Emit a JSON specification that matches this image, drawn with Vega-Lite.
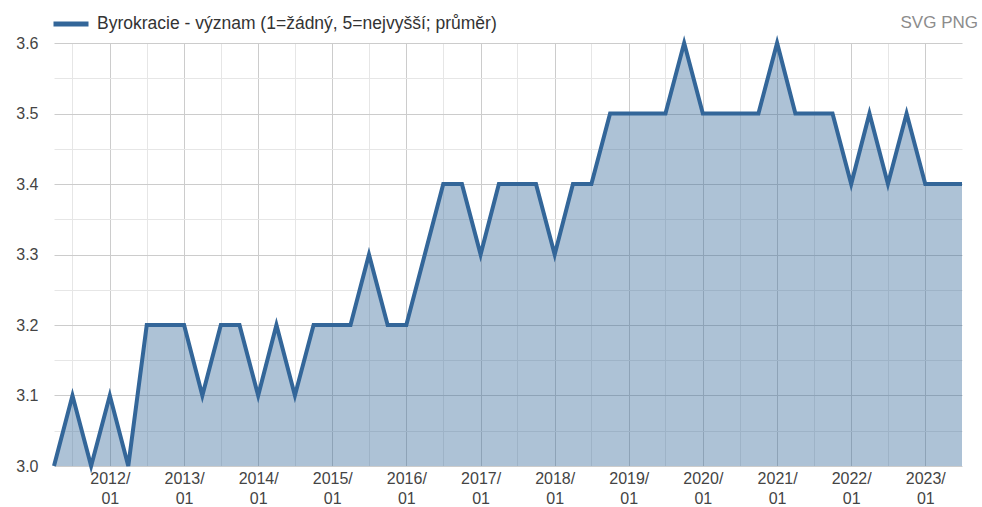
{
  "$schema": "https://vega.github.io/schema/vega-lite/v6.json",
  "width": 908,
  "height": 423,
  "autosize": {"type": "none"},
  "padding": {"left": 54, "top": 43, "right": 20, "bottom": 41},
  "background": "white",
  "config": {
    "view": {"stroke": null},
    "font": "Liberation Sans",
    "axis": {"labelFont": "Liberation Sans"},
    "legend": {"labelFont": "Liberation Sans"},
    "title": {"fontSize": 17, "font": "Liberation Sans", "fontWeight": "normal", "color": "#8c8c8c"}
  },
  "title": {
    "text": "SVG PNG",
    "anchor": "end",
    "orient": "top",
    "fontSize": 17,
    "fontWeight": "normal",
    "color": "#8c8c8c",
    "offset": 0,
    "dy": 28,
    "dx": 8
  },
  "data": {
    "values": [
      {"d": "2011-04-01", "v": 3.0, "s": "Byrokracie - význam (1=žádný, 5=nejvyšší; průměr)"},
      {"d": "2011-07-01", "v": 3.1, "s": "Byrokracie - význam (1=žádný, 5=nejvyšší; průměr)"},
      {"d": "2011-10-01", "v": 3.0, "s": "Byrokracie - význam (1=žádný, 5=nejvyšší; průměr)"},
      {"d": "2012-01-01", "v": 3.1, "s": "Byrokracie - význam (1=žádný, 5=nejvyšší; průměr)"},
      {"d": "2012-04-01", "v": 3.0, "s": "Byrokracie - význam (1=žádný, 5=nejvyšší; průměr)"},
      {"d": "2012-07-01", "v": 3.2, "s": "Byrokracie - význam (1=žádný, 5=nejvyšší; průměr)"},
      {"d": "2012-10-01", "v": 3.2, "s": "Byrokracie - význam (1=žádný, 5=nejvyšší; průměr)"},
      {"d": "2013-01-01", "v": 3.2, "s": "Byrokracie - význam (1=žádný, 5=nejvyšší; průměr)"},
      {"d": "2013-04-01", "v": 3.1, "s": "Byrokracie - význam (1=žádný, 5=nejvyšší; průměr)"},
      {"d": "2013-07-01", "v": 3.2, "s": "Byrokracie - význam (1=žádný, 5=nejvyšší; průměr)"},
      {"d": "2013-10-01", "v": 3.2, "s": "Byrokracie - význam (1=žádný, 5=nejvyšší; průměr)"},
      {"d": "2014-01-01", "v": 3.1, "s": "Byrokracie - význam (1=žádný, 5=nejvyšší; průměr)"},
      {"d": "2014-04-01", "v": 3.2, "s": "Byrokracie - význam (1=žádný, 5=nejvyšší; průměr)"},
      {"d": "2014-07-01", "v": 3.1, "s": "Byrokracie - význam (1=žádný, 5=nejvyšší; průměr)"},
      {"d": "2014-10-01", "v": 3.2, "s": "Byrokracie - význam (1=žádný, 5=nejvyšší; průměr)"},
      {"d": "2015-01-01", "v": 3.2, "s": "Byrokracie - význam (1=žádný, 5=nejvyšší; průměr)"},
      {"d": "2015-04-01", "v": 3.2, "s": "Byrokracie - význam (1=žádný, 5=nejvyšší; průměr)"},
      {"d": "2015-07-01", "v": 3.3, "s": "Byrokracie - význam (1=žádný, 5=nejvyšší; průměr)"},
      {"d": "2015-10-01", "v": 3.2, "s": "Byrokracie - význam (1=žádný, 5=nejvyšší; průměr)"},
      {"d": "2016-01-01", "v": 3.2, "s": "Byrokracie - význam (1=žádný, 5=nejvyšší; průměr)"},
      {"d": "2016-04-01", "v": 3.3, "s": "Byrokracie - význam (1=žádný, 5=nejvyšší; průměr)"},
      {"d": "2016-07-01", "v": 3.4, "s": "Byrokracie - význam (1=žádný, 5=nejvyšší; průměr)"},
      {"d": "2016-10-01", "v": 3.4, "s": "Byrokracie - význam (1=žádný, 5=nejvyšší; průměr)"},
      {"d": "2017-01-01", "v": 3.3, "s": "Byrokracie - význam (1=žádný, 5=nejvyšší; průměr)"},
      {"d": "2017-04-01", "v": 3.4, "s": "Byrokracie - význam (1=žádný, 5=nejvyšší; průměr)"},
      {"d": "2017-07-01", "v": 3.4, "s": "Byrokracie - význam (1=žádný, 5=nejvyšší; průměr)"},
      {"d": "2017-10-01", "v": 3.4, "s": "Byrokracie - význam (1=žádný, 5=nejvyšší; průměr)"},
      {"d": "2018-01-01", "v": 3.3, "s": "Byrokracie - význam (1=žádný, 5=nejvyšší; průměr)"},
      {"d": "2018-04-01", "v": 3.4, "s": "Byrokracie - význam (1=žádný, 5=nejvyšší; průměr)"},
      {"d": "2018-07-01", "v": 3.4, "s": "Byrokracie - význam (1=žádný, 5=nejvyšší; průměr)"},
      {"d": "2018-10-01", "v": 3.5, "s": "Byrokracie - význam (1=žádný, 5=nejvyšší; průměr)"},
      {"d": "2019-01-01", "v": 3.5, "s": "Byrokracie - význam (1=žádný, 5=nejvyšší; průměr)"},
      {"d": "2019-04-01", "v": 3.5, "s": "Byrokracie - význam (1=žádný, 5=nejvyšší; průměr)"},
      {"d": "2019-07-01", "v": 3.5, "s": "Byrokracie - význam (1=žádný, 5=nejvyšší; průměr)"},
      {"d": "2019-10-01", "v": 3.6, "s": "Byrokracie - význam (1=žádný, 5=nejvyšší; průměr)"},
      {"d": "2020-01-01", "v": 3.5, "s": "Byrokracie - význam (1=žádný, 5=nejvyšší; průměr)"},
      {"d": "2020-04-01", "v": 3.5, "s": "Byrokracie - význam (1=žádný, 5=nejvyšší; průměr)"},
      {"d": "2020-07-01", "v": 3.5, "s": "Byrokracie - význam (1=žádný, 5=nejvyšší; průměr)"},
      {"d": "2020-10-01", "v": 3.5, "s": "Byrokracie - význam (1=žádný, 5=nejvyšší; průměr)"},
      {"d": "2021-01-01", "v": 3.6, "s": "Byrokracie - význam (1=žádný, 5=nejvyšší; průměr)"},
      {"d": "2021-04-01", "v": 3.5, "s": "Byrokracie - význam (1=žádný, 5=nejvyšší; průměr)"},
      {"d": "2021-07-01", "v": 3.5, "s": "Byrokracie - význam (1=žádný, 5=nejvyšší; průměr)"},
      {"d": "2021-10-01", "v": 3.5, "s": "Byrokracie - význam (1=žádný, 5=nejvyšší; průměr)"},
      {"d": "2022-01-01", "v": 3.4, "s": "Byrokracie - význam (1=žádný, 5=nejvyšší; průměr)"},
      {"d": "2022-04-01", "v": 3.5, "s": "Byrokracie - význam (1=žádný, 5=nejvyšší; průměr)"},
      {"d": "2022-07-01", "v": 3.4, "s": "Byrokracie - význam (1=žádný, 5=nejvyšší; průměr)"},
      {"d": "2022-10-01", "v": 3.5, "s": "Byrokracie - význam (1=žádný, 5=nejvyšší; průměr)"},
      {"d": "2023-01-01", "v": 3.4, "s": "Byrokracie - význam (1=žádný, 5=nejvyšší; průměr)"},
      {"d": "2023-04-01", "v": 3.4, "s": "Byrokracie - význam (1=žádný, 5=nejvyšší; průměr)"},
      {"d": "2023-07-01", "v": 3.4, "s": "Byrokracie - význam (1=žádný, 5=nejvyšší; průměr)"}
    ]
  },
  "encoding": {
    "x": {
      "field": "d",
      "type": "temporal",
      "scale": {"type": "utc", "domain": [{"year": 2011, "month": 4, "date": 1, "utc": true}, {"year": 2023, "month": 7, "date": 1, "utc": true}]},
      "axis": {
        "title": null,
        "domain": false,
        "ticks": false,
        "labelPadding": 4,
        "labelFontSize": 16,
        "labelColor": "#444444",
        "labelLineHeight": 20,
        "labelAlign": "center",
        "labelBaseline": "top",
        "labelOverlap": false,
        "values": [
          {"year": 2011, "month": 7, "date": 1, "utc": true},
          {"year": 2012, "month": 1, "date": 1, "utc": true},
          {"year": 2012, "month": 7, "date": 1, "utc": true},
          {"year": 2013, "month": 1, "date": 1, "utc": true},
          {"year": 2013, "month": 7, "date": 1, "utc": true},
          {"year": 2014, "month": 1, "date": 1, "utc": true},
          {"year": 2014, "month": 7, "date": 1, "utc": true},
          {"year": 2015, "month": 1, "date": 1, "utc": true},
          {"year": 2015, "month": 7, "date": 1, "utc": true},
          {"year": 2016, "month": 1, "date": 1, "utc": true},
          {"year": 2016, "month": 7, "date": 1, "utc": true},
          {"year": 2017, "month": 1, "date": 1, "utc": true},
          {"year": 2017, "month": 7, "date": 1, "utc": true},
          {"year": 2018, "month": 1, "date": 1, "utc": true},
          {"year": 2018, "month": 7, "date": 1, "utc": true},
          {"year": 2019, "month": 1, "date": 1, "utc": true},
          {"year": 2019, "month": 7, "date": 1, "utc": true},
          {"year": 2020, "month": 1, "date": 1, "utc": true},
          {"year": 2020, "month": 7, "date": 1, "utc": true},
          {"year": 2021, "month": 1, "date": 1, "utc": true},
          {"year": 2021, "month": 7, "date": 1, "utc": true},
          {"year": 2022, "month": 1, "date": 1, "utc": true},
          {"year": 2022, "month": 7, "date": 1, "utc": true},
          {"year": 2023, "month": 1, "date": 1, "utc": true}
        ],
        "labelExpr": "utcFormat(datum.value, '%m') == '01' ? [utcFormat(datum.value, '%Y/'), '01'] : ''",
        "gridColor": {"condition": {"test": "utcFormat(datum.value, '%m') == '01'", "value": "#cccccc"}, "value": "#e6e6e6"},
        "gridWidth": 1
      }
    },
    "y": {
      "field": "v",
      "type": "quantitative",
      "scale": {"domain": [3.0, 3.6], "zero": false, "nice": false},
      "axis": {
        "title": null,
        "domain": false,
        "ticks": false,
        "labelPadding": 16,
        "labelFontSize": 16,
        "labelColor": "#444444",
        "labelOverlap": false,
        "values": [3.0, 3.05, 3.1, 3.15, 3.2, 3.25, 3.3, 3.35, 3.4, 3.45, 3.5, 3.55, 3.6],
        "labelExpr": "abs(datum.value * 10 - round(datum.value * 10)) < 0.01 ? format(datum.value, '.1f') : ''",
        "gridColor": {"condition": {"test": "abs(datum.value * 10 - round(datum.value * 10)) < 0.01", "value": "#cccccc"}, "value": "#e6e6e6"},
        "gridWidth": 1
      }
    }
  },
  "layer": [
    {
      "mark": {"type": "area", "color": "#336699", "opacity": 0.4, "clip": true}
    },
    {
      "mark": {"type": "line", "strokeWidth": 4, "strokeJoin": "miter"},
      "encoding": {
        "color": {
          "field": "s",
          "type": "nominal",
          "scale": {"range": ["#336699"]},
          "legend": {
            "title": null,
            "orient": "none",
            "legendX": -3,
            "legendY": -39,
            "padding": 0,
            "symbolType": "stroke",
            "symbolSize": 1225,
            "symbolStrokeWidth": 5,
            "labelFontSize": 17.5,
            "labelColor": "#333333",
            "labelOffset": 6,
            "labelLimit": 700
          }
        }
      }
    }
  ]
}
